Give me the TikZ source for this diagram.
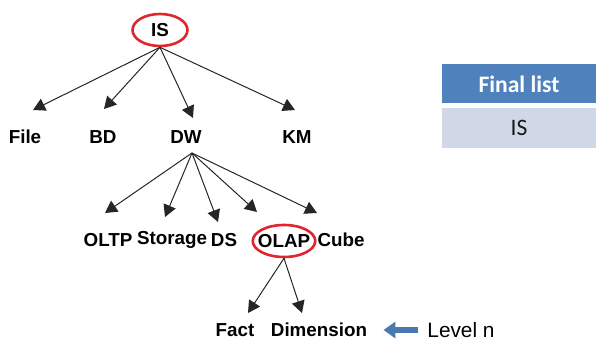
\documentclass[tikz,border=0pt]{standalone}
\usepackage{fontspec}
\setmainfont{Liberation Sans}
\newfontfamily\calfont{Carlito}
\usepackage{tikz}
\usetikzlibrary{positioning}
\usetikzlibrary{arrows.meta}
\usetikzlibrary{shapes.geometric}
\definecolor{hdrblue}{HTML}{4F81BD}
\definecolor{rowblue}{HTML}{D0D8E8}
\definecolor{ringred}{HTML}{E0262C}
\definecolor{lvlblue}{HTML}{4A78B0}

\begin{document}
\begin{tikzpicture}[x=0.5pt, y=-0.5pt,
    term/.style = {font=\fontsize{9.4}{11}\selectfont\bfseries, inner sep=1pt},
    picked/.style = {term, draw=ringred, line width=1.3pt, ellipse, inner xsep=-2pt, inner ysep=2pt, minimum height=16pt},
    edge/.style = {draw=black!85, line width=0.5pt, -{Triangle[length=6pt,width=6.5pt]}},
    lvlarrow/.style = {draw=lvlblue, line width=3pt, -{Triangle[length=6pt,width=8pt]}, shorten <=3.5pt, shorten >=7pt},
    hdr/.style = {fill=hdrblue, text=white, font=\calfont\fontsize{11.8}{14}\selectfont\bfseries, minimum width=77pt, minimum height=19.5pt, inner sep=0pt},
    cell/.style = {fill=rowblue, text=black!90, font=\calfont\fontsize{11.8}{14}\selectfont, minimum width=77pt, minimum height=20pt, inner sep=0pt}]
    \useasboundingbox (0,0) rectangle (596,341);

    \node[picked, minimum width=27.5pt] (IS) at (160,30) {IS};
    \node[term] (File) at (25,137) {File};
    \node[term] (BD) at (103,137) {BD};
    \node[term] (DW) at (186,137) {DW};
    \node[term] (KM) at (297,137) {KM};
    \node[term] (OLTP) at (108,240) {OLTP};
    \node[term] (Storage) at (172,240) {Storage};
    \node[term] (DS) at (224,240) {DS};
    \node[picked, minimum width=31pt] (OLAP) at (284,241) {OLAP};
    \node[term] (Cube) at (341,240) {Cube};
    \node[term] (Fact) at (235,330) {Fact};
    \node[term] (Dim) at (319,330) {Dimension};
    \node[font=\fontsize{10.4}{12}\selectfont, inner sep=1pt] (Level) at (461,330) {Level n};

    \coordinate (tFile) at (33,110);
    \coordinate (tBD) at (104,109);
    \coordinate (tDW) at (193,118);
    \coordinate (tKM) at (295,110);
    \coordinate (DWfoot) at (192,153);
    \coordinate (tOLTP) at (105,213);
    \coordinate (tStorage) at (165,217);
    \coordinate (tDS) at (218,222);
    \coordinate (tOLAP) at (257,212);
    \coordinate (tCube) at (317,213);
    \coordinate (tFact) at (248,313);
    \coordinate (tDim) at (302,313);

    \draw[edge] (IS.south) -- (tFile);
    \draw[edge] (IS.south) -- (tBD);
    \draw[edge] (IS.south) -- (tDW);
    \draw[edge] (IS.south) -- (tKM);
    \draw[edge] (DWfoot) -- (tOLTP);
    \draw[edge] (DWfoot) -- (tStorage);
    \draw[edge] (DWfoot) -- (tDS);
    \draw[edge] (DWfoot) -- (tOLAP);
    \draw[edge] (DWfoot) -- (tCube);
    \draw[edge] (OLAP.south) -- (tFact);
    \draw[edge] (OLAP.south) -- (tDim);
    \draw[lvlarrow] (Level) -- (Dim);

    \node[hdr] (Final) at (519,84) {Final list};
    \node[cell, below=2pt of Final] (FinalIS) {IS};
\end{tikzpicture}
\end{document}
